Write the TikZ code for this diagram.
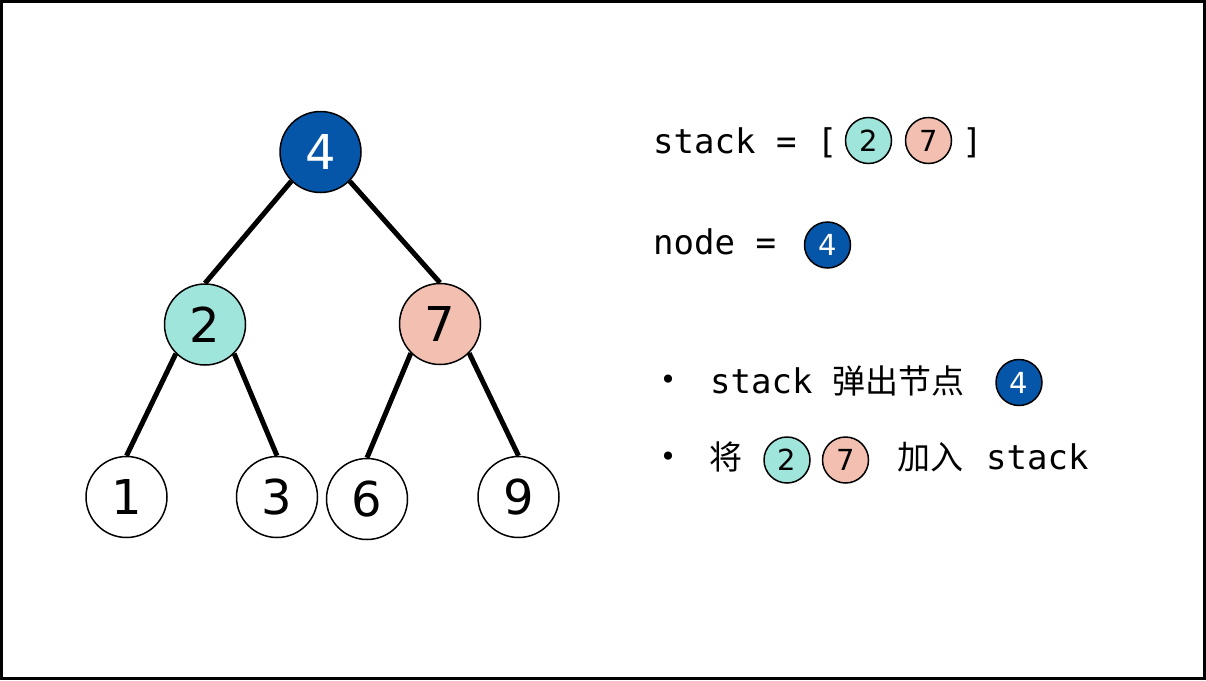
\documentclass[tikz,border=0pt]{standalone}
\usepackage{fontspec}
\setmainfont{DejaVu Sans}
\newfontfamily\monof{DejaVu Sans Mono}
\newfontfamily\cjk{Noto Sans CJK SC}
\definecolor{nblue}{RGB}{5,86,168}
\definecolor{nteal}{RGB}{160,229,220}
\definecolor{npink}{RGB}{243,191,177}
\begin{document}
\begin{tikzpicture}[x=1pt,y=-1pt,
  tn/.style={circle, draw=black, line width=1.5pt, minimum size=81pt, inner sep=0pt, font=\fontsize{48}{48}\selectfont},
  sn/.style={circle, draw=black, line width=1.5pt, minimum size=46pt, inner sep=0pt, font=\fontsize{29}{29}\selectfont},
  bluen/.style={fill=nblue, text=white},
  tealn/.style={fill=nteal},
  pinkn/.style={fill=npink},
  edge/.style={line width=5pt, black},
  mono/.style={anchor=base west, inner sep=0pt, font=\monof\fontsize{34}{34}\selectfont},
  cjkt/.style={anchor=base west, inner sep=0pt, font=\cjk\fontsize{33}{33}\selectfont},
  bul/.style={inner sep=0pt, font=\fontsize{28}{28}\selectfont}]
\path[use as bounding box] (0,0) rectangle (1206,680);
\draw[line width=3pt] (1.5,1.5) rectangle (1204.5,678.5);
% tree
\node[tn, bluen] (n4) at (320.5,152) {4};
\node[tn, tealn] (n2) at (205,324.5) {2};
\node[tn, pinkn] (n7) at (440,324) {7};
\node[tn, fill=white] (n1) at (126.5,497) {1};
\node[tn, fill=white] (n3) at (277,497) {3};
\node[tn, fill=white] (n6) at (367,499) {6};
\node[tn, fill=white] (n9) at (518.5,497) {9};
\draw[edge] (n4.south west) -- (n2.north);
\draw[edge] (n4.south east) -- (n7.north);
\draw[edge] (n2.south west) -- (n1.north);
\draw[edge] (n2.south east) -- (n3.north);
\draw[edge] (n7.south west) -- (n6.north);
\draw[edge] (n7.south east) -- (n9.north);
% right side
\node[mono] (t1) at (653,153) {stack = [};
\node[sn, tealn] (s2) at (868.5,140.5) {2};
\node[sn, pinkn] (s7) at (928.5,140.5) {7};
\node[mono] (t1b) at (962,153) {]};
\node[mono] (t2) at (653,254) {node =};
\node[sn, bluen] (s4) at (827.5,245) {4};
\node[bul] (b1) at (668,382) {•};
\node[mono] (t3) at (710,393) {stack};
\node[cjkt] (t3c) at (832,393) {弹出节点};
\node[sn, bluen] (s4b) at (1019,382.5) {4};
\node[bul] (b2) at (668,459) {•};
\node[cjkt] (t4) at (709,469) {将};
\node[sn, tealn] (s2b) at (787,460) {2};
\node[sn, pinkn] (s7b) at (845.5,460) {7};
\node[cjkt] (t4c) at (897,469) {加入};
\node[mono] (t4s) at (986,469) {stack};
\end{tikzpicture}
\end{document}
